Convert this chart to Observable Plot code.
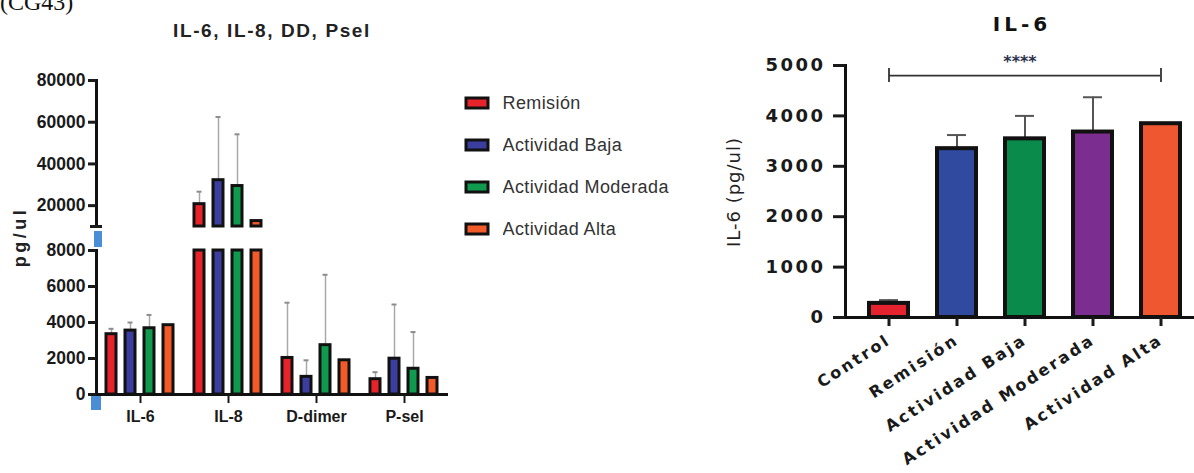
<!DOCTYPE html>
<html>
<head>
<meta charset="utf-8">
<script src="https://cdn.jsdelivr.net/npm/d3@7"></script>
<script src="https://cdn.jsdelivr.net/npm/@observablehq/plot@0.6"></script>
<style>
html,body{margin:0;padding:0;background:#fff;}
body{width:1194px;height:473px;position:relative;overflow:hidden;font-family:"Liberation Sans",Arial,sans-serif;color:#1a1a1a;}
.abs{position:absolute;white-space:nowrap;}
#cg{left:0;top:-10px;font:24px/24px "Liberation Serif","Times New Roman",serif;color:#111;}
#ltitle{left:122px;width:300px;text-align:center;top:21px;font-weight:bold;font-size:19px;line-height:19px;letter-spacing:1.6px;color:#222;}
#rtitle{left:972px;width:100px;text-align:center;top:14px;font-family:"DejaVu Sans",sans-serif;font-weight:bold;font-size:20px;line-height:20px;letter-spacing:4px;color:#111;}
#lylabel{left:20px;top:237px;transform:translate(-50%,-50%) rotate(-90deg);font-weight:bold;font-size:18px;letter-spacing:3.5px;color:#222;}
#rylabel{left:733px;top:192px;transform:translate(-50%,-50%) rotate(-90deg);font-family:"DejaVu Sans",sans-serif;font-size:18px;letter-spacing:1px;color:#222;}
#upper,#upperAxis{left:0;top:0;}
#lower,#lowerAxis{left:0;top:236px;}
#right{left:700px;top:0;}
.brk{position:absolute;background:#4a8ed8;}
#brk1{left:94px;top:231px;width:8px;height:16px;}
#brk2{left:91px;top:396px;width:10px;height:14px;}
.lgd-swatches{position:absolute;left:466px;top:82px;margin:0 !important;width:300px;font-family:"Liberation Sans",Arial,sans-serif !important;font-size:18px !important;color:#333;letter-spacing:0.4px;}
.lgd-swatch{height:42px;display:flex !important;align-items:center;padding:0 !important;}
.lgd-swatch > svg{margin-right:14.5px !important;overflow:visible;}
.lgd-swatch rect{stroke:#111;stroke-width:3px;}
#right g[aria-label="y-axis tick label"] text{letter-spacing:2.5px;}
#right g[aria-label="x-axis tick label"] text{letter-spacing:2.5px;}
</style>
</head>
<body>
<div id="cg" class="abs">(CG43)</div>
<div id="ltitle" class="abs">IL-6, IL-8, DD, Psel</div>
<div id="rtitle" class="abs">IL-6</div>
<div id="lylabel" class="abs">pg/ul</div>
<div id="rylabel" class="abs">IL-6 (pg/ul)</div>
<div id="upper" class="abs"></div>
<div id="upperAxis" class="abs"></div>
<div id="lower" class="abs"></div>
<div id="lowerAxis" class="abs"></div>
<div id="right" class="abs"></div>
<div id="brk1" class="brk"></div>
<div id="brk2" class="brk"></div>
<script>
// ---------- Left panel data ----------
const groups = ["IL-6", "IL-8", "D-dimer", "P-sel"];
const series = ["Remisión", "Actividad Baja", "Actividad Moderada", "Actividad Alta"];
const seriesColors = ["#e8242b", "#3b3e9e", "#0f9a4e", "#f25a29"];
const meanIL6 = [3350, 3550, 3680, 3850];
const errIL6 = [3650, 4000, 4420, null];
const meanIL8 = [20700, 32200, 29400, 12600];
const errIL8 = [26700, 62500, 54200, null];
const meanDD = [2030, 980, 2740, 1900];
const errDD = [5100, 1900, 6650, null];
const meanPsel = [850, 1990, 1430, 920];
const errPsel = [1240, 5000, 3470, null];
const lowerDomain = [0, 8000];
const upperDomain = [10000, 80000];
const lowerTicks = [0, 2000, 4000, 6000, 8000];
const upperTicks = [20000, 40000, 60000, 80000];

// ---------- Right panel data ----------
const conditions = ["Control", "Remisión", "Actividad Baja", "Actividad Moderada", "Actividad Alta"];
const conditionColors = ["#e5232f", "#2f4a9e", "#0a8a4b", "#7b2e8f", "#ef5731"];
const il6Mean = [280, 3350, 3545, 3680, 3845];
const il6Err = [345, 3620, 4000, 4370, null];
const il6Domain = [0, 5000];
const il6Ticks = [0, 1000, 2000, 3000, 4000, 5000];
const sigLabel = "****";
const sigFrom = "Control";
const sigTo = "Actividad Alta";
const sigValue = 4800;

// ---------- build tables ----------
const means = [meanIL6, meanIL8, meanDD, meanPsel];
const errs = [errIL6, errIL8, errDD, errPsel];
const rows = [];
groups.forEach((g, gi) => series.forEach((s, si) => rows.push({group: g, series: s, mean: means[gi][si], err: errs[gi][si]})));

const fmt = d3.format("d");
const leftStyle = {fontFamily: "Liberation Sans, Arial, sans-serif", color: "#1a1a1a", background: "transparent", overflow: "visible"};
const leftCommon = {
  width: 460,
  marginLeft: 96,
  marginRight: 12,
  style: leftStyle,
  fx: {domain: groups, padding: 0, label: null},
  x: {domain: series, paddingInner: 0.47, paddingOuter: 0.55, axis: null},
  color: {domain: series, range: seriesColors}
};
const tickFont = {fontSize: 17.5, fontWeight: "bold"};

function axisPlot(domain, ticks, height, marginTop, marginBottom, extra = []) {
  return Plot.plot({
    width: 110, height, marginLeft: 96, marginRight: 14, marginTop, marginBottom,
    style: leftStyle,
    y: {domain, axis: null},
    marks: [
      Plot.frame({anchor: "left", stroke: "#111", strokeWidth: 3}),
      Plot.axisY({ticks, tickFormat: fmt, tickSize: 8, tickPadding: 3, strokeWidth: 3, label: null, ...tickFont}),
      ...extra
    ]
  });
}

// Lower segment (0–8000)
const lowerErr = rows.filter(d => d.err != null && d.err <= lowerDomain[1]);
const lower = Plot.plot({
  ...leftCommon,
  height: 237,
  marginTop: 14,
  marginBottom: 79,
  y: {domain: lowerDomain, axis: null},
  marks: [
    Plot.ruleX(lowerErr, {fx: "group", x: "series", y1: "mean", y2: "err", stroke: "#a8a8a8", strokeWidth: 1.5}),
    Plot.tickY(lowerErr, {fx: "group", x: "series", y: "err", stroke: "#8d8d8d", strokeWidth: 2, insetLeft: 2.5, insetRight: 2.5}),
    Plot.barY(rows, {fx: "group", x: "series", y1: lowerDomain[0], y2: d => Math.min(d.mean, lowerDomain[1]), fill: "series", stroke: "#111", strokeWidth: 3}),
    Plot.ruleY([lowerDomain[0]], {stroke: "#111", strokeWidth: 3}),
    Plot.axisFx({anchor: "bottom", tickSize: 9, tickPadding: 7, strokeWidth: 2, label: null, fontSize: 16, fontWeight: "bold"})
  ]
});
document.getElementById("lower").append(lower);
document.getElementById("lowerAxis").append(axisPlot(lowerDomain, lowerTicks, 237, 14, 79));

// Upper segment (10000–80000)
const upperRows = rows.filter(d => d.mean > upperDomain[0]);
const upperErr = upperRows.filter(d => d.err != null);
const upper = Plot.plot({
  ...leftCommon,
  height: 236,
  marginTop: 80,
  marginBottom: 10,
  fx: {domain: groups, padding: 0, axis: null},
  y: {domain: upperDomain, axis: null},
  marks: [
    Plot.ruleX(upperErr, {fx: "group", x: "series", y1: "mean", y2: "err", stroke: "#a8a8a8", strokeWidth: 1.5}),
    Plot.tickY(upperErr, {fx: "group", x: "series", y: "err", stroke: "#8d8d8d", strokeWidth: 2, insetLeft: 2.5, insetRight: 2.5}),
    Plot.barY(upperRows, {fx: "group", x: "series", y1: upperDomain[0], y2: "mean", fill: "series", stroke: "#111", strokeWidth: 3})
  ]
});
document.getElementById("upper").append(upper);
document.getElementById("upperAxis").append(axisPlot(upperDomain, upperTicks, 236, 80, 10, [
  Plot.axisY({ticks: [upperDomain[0]], tickSize: 12, dx: 6, strokeWidth: 3, tickFormat: () => "", label: null})
]));

// Legend
const legend = Plot.legend({
  color: {domain: series, range: seriesColors},
  legend: "swatches",
  columns: 1,
  swatchWidth: 22,
  swatchHeight: 10,
  className: "lgd"
});
document.body.append(legend);

// ---------- Right panel ----------
const rRows = conditions.map((c, i) => ({cond: c, mean: il6Mean[i], err: il6Err[i]}));
const rErr = rRows.filter(d => d.err != null);
const right = Plot.plot({
  width: 494,
  height: 473,
  marginLeft: 145,
  marginRight: 0,
  marginTop: 65,
  marginBottom: 156,
  style: {fontFamily: "DejaVu Sans, sans-serif", color: "#1a1a1a", background: "transparent", overflow: "visible"},
  x: {domain: conditions, paddingInner: 0.43, paddingOuter: 0.28, align: 0.62, axis: null},
  y: {domain: il6Domain, axis: null},
  color: {domain: conditions, range: conditionColors},
  marks: [
    Plot.ruleX(rErr, {x: "cond", y1: "mean", y2: "err", stroke: "#555", strokeWidth: 2}),
    Plot.tickY(rErr, {x: "cond", y: "err", stroke: "#555", strokeWidth: 2, insetLeft: 10, insetRight: 10}),
    Plot.barY(rRows, {x: "cond", y: "mean", fill: "cond", stroke: "#111", strokeWidth: 4}),
    Plot.ruleY([{from: sigFrom, to: sigTo, v: sigValue}], {x1: "from", x2: "to", y: "v", insetLeft: 20, insetRight: 20, stroke: "#333", strokeWidth: 1.8}),
    Plot.ruleX([sigFrom, sigTo], {x: d => d, y1: () => sigValue, y2: () => sigValue, insetTop: -7, insetBottom: -7, stroke: "#333", strokeWidth: 1.8}),
    Plot.text([sigLabel], {text: d => d, y: () => sigValue, dy: -14, fontSize: 16, fontWeight: "bold", fill: "#2a2f4a", letterSpacing: 3}),
    Plot.ruleY([il6Domain[0]], {stroke: "#111", strokeWidth: 3}),
    Plot.frame({anchor: "left", stroke: "#111", strokeWidth: 3}),
    Plot.axisY({ticks: il6Ticks, tickFormat: fmt, tickSize: 12, tickPadding: 8, strokeWidth: 3, label: null, fontSize: 18, fontWeight: "bold"}),
    Plot.axisX({tickSize: 9, tickPadding: 12, tickRotate: -33, strokeWidth: 3, label: null, fontSize: 16, fontWeight: "bold"})
  ]
});
document.getElementById("right").append(right);
</script>
</body>
</html>
